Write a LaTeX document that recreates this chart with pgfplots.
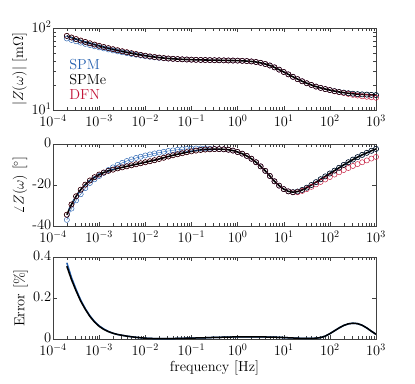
\documentclass[border=0pt]{standalone}
\usepackage{pgfplots}
\usepackage{pgfplotstable}
\pgfplotsset{compat=1.18}

\definecolor{spmblue}{RGB}{35,95,175}
\definecolor{dfnred}{RGB}{195,20,55}

\pgfplotsset{every axis/.append style={
  font=\fontsize{14.5}{17}\selectfont,
  tick label style={inner sep=1.5pt},
  xticklabel style={yshift=-3pt},
  yticklabel style={yshift=1pt},
}}

% f, |Z| [mOhm], phase [deg], error [%]
\pgfplotstableread{
f         mS    mE    mD    pS     pE     pD     eS     eE
1.995e-4  74.5  80.0  80.3  -37.0  -34.5  -34.5  0.372  0.355
2.512e-4  71.5  76.5  76.8  -31.5  -29.5  -29.5  0.300  0.290
3.162e-4  68.8  73.2  73.5  -27.5  -25.5  -25.5  0.242  0.235
3.981e-4  66.3  70.2  70.4  -24.5  -22.3  -22.3  0.190  0.185
5.012e-4  64.0  67.5  67.7  -21.5  -19.8  -19.8  0.148  0.145
6.310e-4  61.9  65.0  65.2  -19.0  -17.8  -17.8  0.113  0.110
7.943e-4  59.9  62.7  62.9  -17.2  -16.2  -16.2  0.085  0.083
1.000e-3  58.1  60.6  60.7  -15.6  -14.9  -14.9  0.064  0.062
1.259e-3  56.4  58.6  58.7  -14.1  -13.9  -13.9  0.049  0.047
1.585e-3  54.8  56.8  56.9  -12.7  -13.1  -13.1  0.037  0.036
1.995e-3  53.3  55.1  55.2  -11.4  -12.5  -12.5  0.028  0.028
2.512e-3  51.9  53.5  53.6  -10.2  -11.9  -11.9  0.022  0.022
3.162e-3  50.6  52.0  52.1  -9.2   -11.4  -11.4  0.018  0.018
3.981e-3  49.4  50.6  50.7  -8.3   -10.9  -10.9  0.014  0.014
5.012e-3  48.2  49.3  49.3  -7.5   -10.4  -10.4  0.011  0.011
6.310e-3  47.2  48.1  48.1  -6.8   -9.9   -9.9   0.008  0.008
7.943e-3  46.2  47.0  47.0  -6.2   -9.4   -9.4   0.006  0.006
1.000e-2  45.3  46.0  46.0  -5.6   -8.9   -8.9   0.004  0.004
1.259e-2  44.5  45.1  45.1  -5.1   -8.4   -8.4   0.003  0.003
1.585e-2  43.8  44.3  44.3  -4.6   -7.9   -7.9   0.002  0.002
1.995e-2  43.2  43.6  43.6  -4.2   -7.3   -7.3   0.002  0.002
2.512e-2  42.7  43.0  43.0  -3.8   -6.7   -6.7   0.002  0.002
3.162e-2  42.3  42.5  42.5  -3.4   -6.1   -6.1   0.002  0.002
3.981e-2  42.0  42.1  42.1  -3.1   -5.5   -5.5   0.002  0.002
5.012e-2  41.7  41.8  41.8  -2.8   -5.0   -5.0   0.003  0.003
6.310e-2  41.5  41.5  41.5  -2.6   -4.5   -4.5   0.003  0.003
7.943e-2  41.3  41.3  41.3  -2.4   -4.0   -4.0   0.004  0.004
1.000e-1  41.1  41.1  41.1  -2.3   -3.6   -3.6   0.004  0.004
1.259e-1  40.9  40.9  40.9  -2.2   -3.2   -3.2   0.005  0.005
1.585e-1  40.8  40.8  40.8  -2.2   -2.9   -2.9   0.006  0.006
1.995e-1  40.7  40.7  40.7  -2.2   -2.7   -2.7   0.006  0.006
2.512e-1  40.6  40.6  40.6  -2.3   -2.6   -2.6   0.007  0.007
3.162e-1  40.5  40.5  40.5  -2.4   -2.5   -2.5   0.008  0.008
3.981e-1  40.4  40.4  40.4  -2.5   -2.5   -2.5   0.008  0.008
5.012e-1  40.3  40.3  40.3  -2.6   -2.6   -2.6   0.009  0.009
6.310e-1  40.2  40.2  40.2  -2.8   -2.8   -2.8   0.009  0.009
7.943e-1  40.1  40.1  40.1  -3.2   -3.2   -3.2   0.010  0.010
1.000e0   40.0  40.0  40.0  -3.9   -3.9   -3.9   0.010  0.010
1.259e0   39.8  39.8  39.8  -4.7   -4.7   -4.7   0.010  0.010
1.585e0   39.5  39.5  39.5  -5.8   -5.8   -5.8   0.011  0.011
1.995e0   39.1  39.1  39.1  -7.2   -7.2   -7.2   0.011  0.011
2.512e0   38.5  38.5  38.5  -8.9   -8.9   -8.9   0.011  0.011
3.162e0   37.6  37.6  37.6  -10.9  -10.9  -10.9  0.010  0.010
3.981e0   36.4  36.4  36.4  -13.1  -13.1  -13.1  0.010  0.010
5.012e0   34.9  34.9  34.9  -15.6  -15.6  -15.6  0.009  0.009
6.310e0   33.1  33.1  33.1  -18.2  -18.2  -18.2  0.009  0.009
7.943e0   31.1  31.1  31.1  -20.3  -20.3  -20.3  0.008  0.008
1.000e1   29.1  29.1  29.1  -22.0  -22.0  -22.0  0.007  0.007
1.259e1   27.2  27.2  27.2  -23.1  -23.1  -23.1  0.006  0.006
1.585e1   25.4  25.4  25.4  -23.5  -23.5  -23.6  0.005  0.005
1.995e1   23.8  23.8  23.8  -23.2  -23.2  -23.5  0.004  0.004
2.512e1   22.4  22.4  22.4  -22.4  -22.4  -22.9  0.003  0.003
3.162e1   21.2  21.2  21.2  -21.3  -21.3  -22.0  0.003  0.003
3.981e1   20.2  20.2  20.2  -20.0  -20.0  -20.9  0.003  0.003
5.012e1   19.3  19.3  19.3  -18.6  -18.6  -19.7  0.004  0.004
6.310e1   18.6  18.6  18.6  -17.2  -17.2  -18.5  0.007  0.007
7.943e1   18.0  18.0  18.0  -15.8  -15.8  -17.3  0.014  0.014
1.000e2   17.5  17.5  17.5  -14.4  -14.4  -16.1  0.026  0.026
1.259e2   17.0  17.0  16.9  -13.0  -13.0  -14.9  0.040  0.040
1.585e2   16.6  16.6  16.5  -11.6  -11.6  -13.8  0.054  0.054
1.995e2   16.3  16.3  16.1  -10.2  -10.2  -12.7  0.066  0.066
2.512e2   16.0  16.0  15.7  -8.9   -8.9   -11.7  0.074  0.074
3.162e2   15.8  15.8  15.3  -7.6   -7.6   -10.7  0.077  0.077
3.981e2   15.6  15.6  15.0  -6.4   -6.4   -9.8   0.075  0.075
5.012e2   15.5  15.5  14.7  -5.3   -5.3   -8.9   0.067  0.067
6.310e2   15.4  15.4  14.5  -4.3   -4.3   -8.0   0.054  0.054
7.943e2   15.3  15.3  14.3  -3.3   -3.3   -7.1   0.038  0.038
1.000e3   15.2  15.2  14.1  -2.4   -2.4   -6.3   0.023  0.023
}\datatable

\begin{document}
\begin{tikzpicture}
\useasboundingbox (0,0) rectangle (415pt,-383pt);

% magnitude
\begin{axis}[scale only axis, width=323pt, height=82pt,
  at={(53pt,-28pt)}, anchor=north west,
  xmode=log, ymode=log, xmin=1e-4, xmax=1e3, ymin=10, ymax=100,
  xtick={1e-4,1e-3,1e-2,1e-1,1e0,1e1,1e2,1e3}, ytick={10,100},
  tick align=inside, axis line style={black!75}, tick style={black!75},
  ylabel={$|Z(\omega)|$ [m$\Omega$]}]
\addplot[spmblue, thin] table[x=f, y=mS] {\datatable};
\addplot[spmblue, only marks, mark=o, mark size=2.6pt, mark options={line width=0.45pt}] table[x=f, y=mS] {\datatable};
\addplot[dfnred, only marks, mark=o, mark size=2.6pt, mark options={line width=0.45pt}] table[x=f, y=mD] {\datatable};
\addplot[black, only marks, mark=o, mark size=2.6pt, mark options={line width=0.45pt}] table[x=f, y=mE] {\datatable};
\addplot[black, line width=1.6pt] table[x=f, y=mE] {\datatable};
\node[anchor=west, inner sep=0pt, text=spmblue] at (rel axis cs:0.05,0.55) {SPM};
\node[anchor=west, inner sep=0pt, text=black] at (rel axis cs:0.05,0.366) {SPMe};
\node[anchor=west, inner sep=0pt, text=dfnred] at (rel axis cs:0.05,0.183) {DFN};
\end{axis}

% phase
\begin{axis}[scale only axis, width=323pt, height=82pt,
  at={(53pt,-144pt)}, anchor=north west,
  xmode=log, xmin=1e-4, xmax=1e3, ymin=-40, ymax=0,
  xtick={1e-4,1e-3,1e-2,1e-1,1e0,1e1,1e2,1e3},
  ytick={-40,-20,0}, yticklabels={-40,-20,0},
  tick align=inside, axis line style={black!75}, tick style={black!75},
  ylabel={$\angle Z(\omega)$ [$^\circ$]}]
\addplot[spmblue, thin] table[x=f, y=pS] {\datatable};
\addplot[spmblue, only marks, mark=o, mark size=2.6pt, mark options={line width=0.45pt}] table[x=f, y=pS] {\datatable};
\addplot[dfnred, only marks, mark=o, mark size=2.6pt, mark options={line width=0.45pt}] table[x=f, y=pD] {\datatable};
\addplot[black, only marks, mark=o, mark size=2.6pt, mark options={line width=0.45pt}] table[x=f, y=pE] {\datatable};
\addplot[black, line width=1.6pt] table[x=f, y=pE] {\datatable};
\end{axis}

% error
\begin{axis}[scale only axis, width=323pt, height=82pt,
  at={(53pt,-257pt)}, anchor=north west,
  xmode=log, xmin=1e-4, xmax=1e3, ymin=0, ymax=0.4,
  xtick={1e-4,1e-3,1e-2,1e-1,1e0,1e1,1e2,1e3},
  ytick={0,0.2,0.4}, yticklabels={0,0.2,0.4},
  tick align=inside, axis line style={black!75}, tick style={black!75},
  ylabel={Error [\%]}, xlabel={frequency [Hz]}]
\addplot[spmblue, line width=1.5pt] table[x=f, y=eS] {\datatable};
\addplot[black, line width=1.5pt] table[x=f, y=eE] {\datatable};
\end{axis}
\end{tikzpicture}
\end{document}
